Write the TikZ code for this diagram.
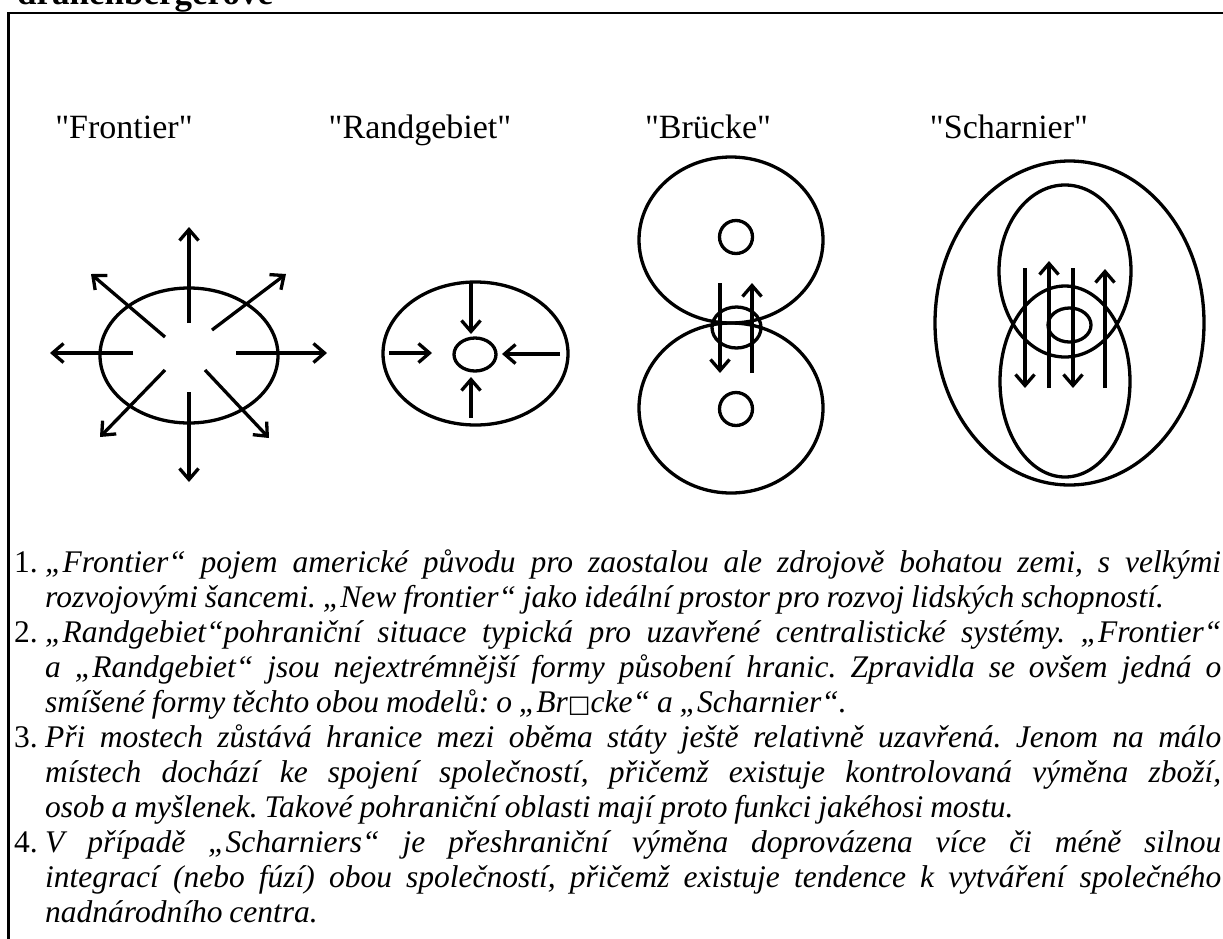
\documentclass[tikz,border=0pt]{standalone}
\usepackage{fontspec}
\setmainfont{Liberation Serif}
\newfontfamily\lblfont{Liberation Serif}[Ligatures=TeXOff]
\newfontfamily\txtfont{Liberation Serif}[WordSpace={0.88,1.5,1.6}]
\newfontfamily\dejavu{DejaVu Sans}
\usetikzlibrary{arrows.meta}
\newcommand{\jl}[1]{\makebox[1176pt][s]{#1}}
\begin{document}
\frenchspacing
\begin{tikzpicture}[x=1pt,y=-1pt,
  shp/.style={line width=3.3pt},
  arr/.style={line width=3.3pt,-{Straight Barb[length=11pt,width=19pt]}},
  lbl/.style={anchor=base, inner sep=0, font=\lblfont\fontsize{34}{40}\selectfont},
  txt/.style={anchor=base west, inner sep=0, font=\txtfont\fontsize{31.5}{35}\selectfont\itshape},
  num/.style={anchor=base west, inner sep=0, font=\txtfont\fontsize{31.5}{35}\selectfont}]
\useasboundingbox (0,0) rectangle (1223,938);
\clip (0,0) rectangle (1223,938);
% title (cut off) and frame
\node[anchor=base west, inner sep=0, font=\bfseries\fontsize{35}{40}\selectfont] (title) at (17,4) {drahenbergerové};
\draw[line width=2.5pt] (1260,13) -- (8.5,13) -- (8.5,960);
% labels
\node[lbl] (l1) at (124,138) {"Frontier"};
\node[lbl] (l2) at (420,138) {"Randgebiet"};
\node[lbl] (l3) at (708,138) {"Brücke"};
\node[lbl] (l4) at (1009,138) {"Scharnier"};
% Frontier
\coordinate (F) at (189,355.5);
\draw[shp] (F) ellipse [x radius=89, y radius=67.5];
\coordinate (fu0) at (189,323); \coordinate (fu1) at (189,227);
\coordinate (fd0) at (189,392); \coordinate (fd1) at (189,482);
\coordinate (fl0) at (133,353); \coordinate (fl1) at (50,353);
\coordinate (fr0) at (236,353); \coordinate (fr1) at (327,353);
\coordinate (ful0) at (165,337); \coordinate (ful1) at (91,274);
\coordinate (fur0) at (212,330); \coordinate (fur1) at (286,274);
\coordinate (fll0) at (165,370); \coordinate (fll1) at (100,437);
\coordinate (flr0) at (205,370); \coordinate (flr1) at (269,438);
\foreach \a in {fu,fd,fl,fr,ful,fur,fll,flr} \draw[arr] (\a0) -- (\a1);
% Randgebiet
\coordinate (R) at (475.5,353.5);
\coordinate (Ri) at (475,354.5);
\draw[shp] (R) ellipse [x radius=92.5, y radius=71.5];
\draw[shp] (Ri) ellipse [x radius=21, y radius=16.5];
\coordinate (rd0) at (471,282); \coordinate (rd1) at (471,334);
\coordinate (ru0) at (471,418); \coordinate (ru1) at (471,377);
\coordinate (rr0) at (389,353); \coordinate (rr1) at (432,353);
\coordinate (rl0) at (560,354); \coordinate (rl1) at (502,354);
\foreach \a in {rd,ru,rr,rl} \draw[arr] (\a0) -- (\a1);
% Bruecke
\coordinate (BT) at (731,240); \coordinate (BB) at (731,408);
\draw[shp] (BT) ellipse [x radius=92, y radius=83];
\draw[shp] (BB) ellipse [x radius=92, y radius=85];
\draw[shp] (736,237) circle [radius=16.5];
\draw[shp] (736,409) circle [radius=16.5];
\draw[shp] (736.5,327.5) ellipse [x radius=24.5, y radius=20.5];
\coordinate (bd0) at (720,283); \coordinate (bd1) at (720,373);
\coordinate (bu0) at (752,373); \coordinate (bu1) at (752,283);
\foreach \a in {bd,bu} \draw[arr] (\a0) -- (\a1);
% Scharnier
\draw[shp] (1069.5,323) ellipse [x radius=134.5, y radius=162];
\draw[shp] (1065,271) ellipse [x radius=66, y radius=86];
\draw[shp] (1065,381.5) ellipse [x radius=65, y radius=95.5];
\draw[shp] (1069.5,325) ellipse [x radius=21.5, y radius=17];
\coordinate (s10) at (1025,268); \coordinate (s11) at (1025,388);
\coordinate (s20) at (1049,388); \coordinate (s21) at (1049,261);
\coordinate (s30) at (1073,268); \coordinate (s31) at (1073,388);
\coordinate (s40) at (1105,388); \coordinate (s41) at (1105,269);
\foreach \a in {s1,s2,s3,s4} \draw[arr] (\a0) -- (\a1);
% text
\node[num] (n1) at (14,572) {1.};
\node[txt] (t1) at (45,572) {\jl{„Frontier“ pojem americké původu pro zaostalou ale zdrojově bohatou zemi, s~velkými}};
\node[txt] (t2) at (45,607) {rozvojovými šancemi. „New frontier“ jako ideální prostor pro rozvoj lidských schopností.};
\node[num] (n2) at (14,642) {2.};
\node[txt] (t3) at (45,642) {\jl{„Randgebiet“pohraniční situace typická pro uzavřené centralistické systémy. „Frontier“}};
\node[txt] (t4) at (45,677) {\jl{a „Randgebiet“ jsou nejextrémnější formy působení hranic. Zpravidla se ovšem jedná o}};
\node[txt] (t5) at (45,712) {smíšené formy těchto obou modelů: o „Br{\upshape\dejavu\fontsize{24}{28}\selectfont □}cke“ a „Scharnier“.};
\node[num] (n3) at (14,747) {3.};
\node[txt] (t6) at (45,747) {\jl{Při mostech zůstává hranice mezi oběma státy ještě relativně uzavřená. Jenom na málo}};
\node[txt] (t7) at (45,782) {\jl{místech dochází ke spojení společností, přičemž existuje kontrolovaná výměna zboží,}};
\node[txt] (t8) at (45,817) {osob a myšlenek. Takové pohraniční oblasti mají proto funkci jakéhosi mostu.};
\node[num] (n4) at (14,852) {4.};
\node[txt] (t9) at (45,852) {\jl{V případě „Scharniers“ je přeshraniční výměna doprovázena více či méně silnou}};
\node[txt] (t10) at (45,887) {\jl{integrací (nebo fúzí) obou společností, přičemž existuje tendence k vytváření společného}};
\node[txt] (t11) at (45,922) {nadnárodního centra.};
\end{tikzpicture}
\end{document}
